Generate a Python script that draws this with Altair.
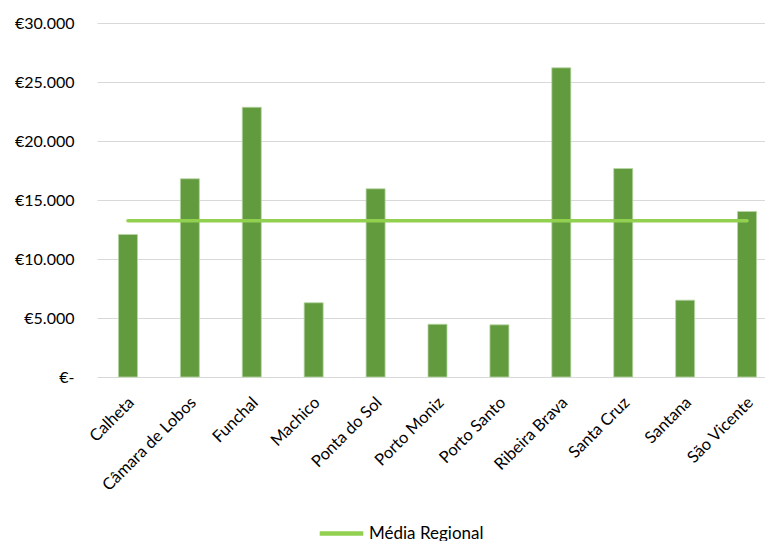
import altair as alt
import pandas as pd

# Municipalities of Madeira and their values (EUR)
municipios = [
    "Calheta", "Câmara de Lobos", "Funchal", "Machico", "Ponta do Sol",
    "Porto Moniz", "Porto Santo", "Ribeira Brava", "Santa Cruz", "Santana",
    "São Vicente",
]
valores = [12080, 16800, 22860, 6290, 15950, 4470, 4420, 26200, 17670, 6510, 14030]
media_regional = 13240

df = pd.DataFrame({
    "municipio": municipios,
    "valor": valores,
    "media": [media_regional] * len(municipios),
    "serie": ["Média Regional"] * len(municipios),
})

FONT = "Lato"

x_enc = alt.X(
    "municipio:N",
    sort=municipios,
    title=None,
    scale=alt.Scale(range=[0, 681], paddingInner=0, paddingOuter=0),
    axis=alt.Axis(
        labelAngle=-45,
        labelAlign="right",
        labelBaseline="top",
        labelFont=FONT,
        labelFontSize=16.5,
        labelColor="#000000",
        labelPadding=17,
        labelOffset=-2,
        ticks=False,
        domain=False,
        labelOverlap=False,
    ),
)

y_scale = alt.Scale(domain=[0, 30000], nice=False)

bars = alt.Chart(df).mark_bar(
    size=19, color="#629A3E", stroke="#B9D6A4", strokeWidth=0.8
).encode(
    x=x_enc,
    y=alt.Y(
        "valor:Q",
        scale=y_scale,
        title=None,
        axis=alt.Axis(
            values=[0, 5000, 10000, 15000, 20000, 25000, 30000],
            labelExpr="datum.value == 0 ? '€-' : '€' + replace(format(datum.value, ','), ',', '.')",
            labelFont=FONT,
            labelFontSize=16,
            labelColor="#000000",
            labelPadding=23,
            ticks=False,
            domain=False,
            gridColor="#D9D9D9",
            gridWidth=1.2,
        ),
    ),
)

linha = alt.Chart(df).mark_line(
    strokeWidth=3.5, strokeCap="round"
).encode(
    x=alt.X("municipio:N", sort=municipios),
    y=alt.Y("media:Q", scale=y_scale),
    color=alt.Color(
        "serie:N",
        scale=alt.Scale(range=["#92D050"]),
        legend=alt.Legend(
            title=None,
            orient="none",
            legendX=220,
            legendY=486,
            symbolType="stroke",
            symbolStrokeWidth=4.5,
            symbolSize=1900,
            labelFont=FONT,
            labelFontSize=17,
            labelColor="#000000",
            labelOffset=3,
        ),
    ),
)

chart = alt.layer(bars, linha).properties(
    width=668,
    height=354,
    padding={"left": 97, "top": 23, "right": 0, "bottom": 164},
    autosize=alt.AutoSizeParams(type="none"),
).configure_view(stroke=None)

chart.save("out.html", embed_options={"renderer": "svg", "actions": False})
